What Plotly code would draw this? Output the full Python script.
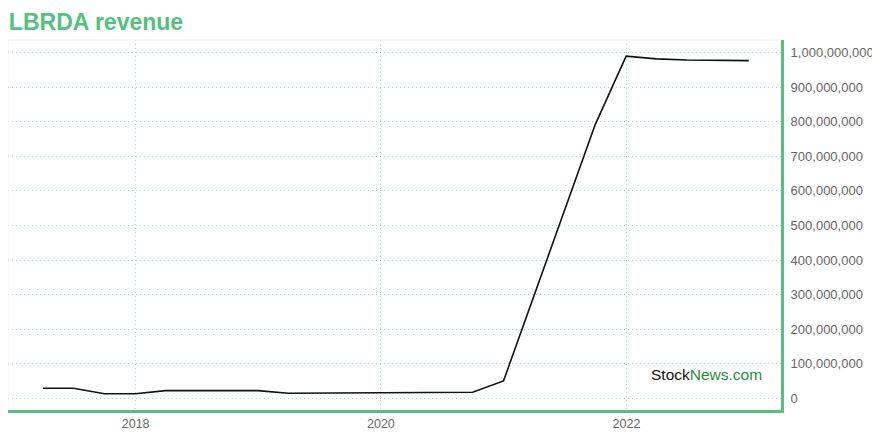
import plotly.graph_objects as go

dates = ["2017-03-31", "2017-06-30", "2017-09-30", "2017-12-31",
         "2018-03-31", "2018-06-30", "2018-09-30", "2018-12-31",
         "2019-03-31", "2019-06-30", "2019-09-30", "2019-12-31",
         "2020-03-31", "2020-06-30", "2020-09-30", "2020-12-31",
         "2021-03-31", "2021-06-30", "2021-09-30", "2021-12-31",
         "2022-03-31", "2022-06-30", "2022-09-30", "2022-12-31"]
revenue = [29e6, 29e6, 13e6, 13e6,
           22e6, 22e6, 22e6, 22e6,
           14.5e6, 15e6, 15.5e6, 16e6,
           16.5e6, 17e6, 17.5e6, 50e6,
           294e6, 540e6, 792e6, 990e6,
           982e6, 979e6, 977e6, 977e6]
y_ticks = [0, 100e6, 200e6, 300e6, 400e6, 500e6, 600e6, 700e6, 800e6, 900e6, 1000e6]
y_tick_text = ["0", "100,000,000", "200,000,000", "300,000,000", "400,000,000",
               "500,000,000", "600,000,000", "700,000,000", "800,000,000",
               "900,000,000", "1,000,000,000"]
x_ticks = ["2018-01-01", "2020-01-01", "2022-01-01"]
x_tick_text = ["2018", "2020", "2022"]

GREEN = "#52c27f"
GRID = "rgba(82,194,127,0.55)"

fig = go.Figure()
fig.add_trace(go.Scatter(x=dates, y=revenue, mode="lines",
                         line=dict(color="#111111", width=1.6),
                         hoverinfo="skip"))

# page body has an 8px default margin, so the figure is sized/offset to compensate
fig.update_layout(
    width=872, height=432,
    margin=dict(l=0, r=99, t=32, b=30, autoexpand=False),
    paper_bgcolor="white", plot_bgcolor="white",
    showlegend=False,
    font=dict(family="Liberation Sans, Arial, sans-serif", size=13, color="#666666"),
    title=dict(text="<b>LBRDA revenue</b>", x=0.001, xanchor="left", y=0.968, yanchor="middle",
               font=dict(size=23, color=GREEN, family="Liberation Sans, Arial, sans-serif")),
    xaxis=dict(range=["2016-12-17", "2023-04-06"], tickvals=x_ticks, ticktext=x_tick_text,
               showgrid=True, gridcolor=GRID, griddash="1px,3px", gridwidth=1,
               showline=True, linecolor=GREEN, linewidth=3,
               ticks="", automargin=False,
               zeroline=False, tickfont=dict(size=12.5, color="#666666")),
    yaxis=dict(side="right", range=[-34e6, 1036.7e6], tickvals=y_ticks, ticktext=y_tick_text,
               showgrid=True, gridcolor=GRID, griddash="1px,3px", gridwidth=1,
               showline=True, linecolor=GREEN, linewidth=3,
               ticks="outside", ticklen=4, tickcolor="rgba(0,0,0,0)", automargin=False,
               zeroline=False, tickfont=dict(size=13, color="#666666")),
    shapes=[
        dict(type="line", xref="paper", yref="paper", x0=0, x1=1, y0=1, y1=1,
             line=dict(color="#eeeeee", width=1)),
        dict(type="line", xref="paper", yref="paper", x0=0, x1=0, y0=0, y1=1,
             line=dict(color="#eeeeee", width=1)),
    ],
    annotations=[
        dict(text="<span style='color:#111111'>Stock</span><span style='color:#1f8f3a'>News.com</span>",
             xref="paper", yref="paper", x=0.978, y=0.097, xanchor="right", yanchor="middle",
             showarrow=False, font=dict(size=15.5, family="Liberation Sans, Arial, sans-serif")),
    ],
)

fig.write_html("out.html")
